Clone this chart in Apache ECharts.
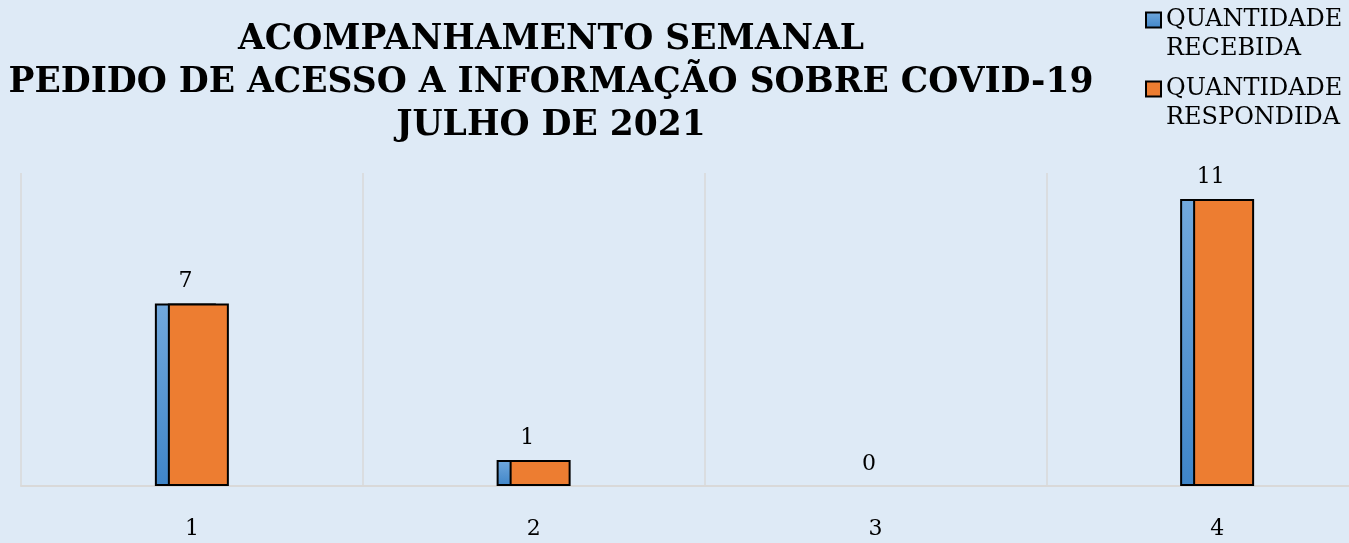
<!DOCTYPE html>
<html>
<head>
<meta charset="utf-8">
<script src="https://cdn.jsdelivr.net/npm/echarts@6/dist/echarts.min.js"></script>
<style>
html,body{margin:0;padding:0;background:#deeaf6;overflow:hidden;width:1349px;height:543px;}
#c{width:1400px;height:543px;}
</style>
</head>
<body>
<div id="c"></div>
<script>
const categories = ['1', '2', '3', '4'];
const recebida = [7, 1, 0, 11];
const respondida = [7, 1, 0, 11];
const seriesNames = ['QUANTIDADE\nRECEBIDA', 'QUANTIDADE\nRESPONDIDA'];
const titleText = 'ACOMPANHAMENTO SEMANAL\nPEDIDO DE ACESSO A INFORMAÇÃO SOBRE COVID-19\nJULHO DE 2021';

function toItems(arr) {
  return arr.map(v => v === 0 ? { value: v, itemStyle: { borderWidth: 0 } } : v);
}

const chart = echarts.init(document.getElementById('c'));
const serif = 'DejaVu Serif';
chart.setOption({
  backgroundColor: '#deeaf6',
  animation: false,
  title: {
    text: titleText,
    left: 551,
    top: 19,
    textAlign: 'center',
    padding: 0,
    textStyle: { fontFamily: serif, fontWeight: 'bold', fontSize: 34.5, lineHeight: 43, color: '#000' }
  },
  legend: {
    orient: 'vertical',
    left: 1145,
    top: -23.5,
    padding: 0,
    itemGap: -18,
    itemWidth: 15,
    itemHeight: 15,
    icon: 'rect',
    itemStyle: { borderColor: '#000', borderWidth: 2 },
    formatter: name => '\n' + name,
    textStyle: { fontFamily: serif, fontSize: 24, lineHeight: 29, color: '#000' },
    data: seriesNames
  },
  grid: { left: 21, right: 12, top: 173, bottom: 57 },
  xAxis: {
    type: 'category',
    data: categories,
    axisLine: { show: true, lineStyle: { color: '#d9d9d9', width: 2 } },
    axisTick: { show: false },
    axisLabel: { margin: 32, fontFamily: serif, fontSize: 22, color: '#000' },
    splitLine: { show: true, lineStyle: { color: '#d9d9d9', width: 1.5 } }
  },
  yAxis: {
    type: 'value',
    min: 0, max: 12,
    show: false,
    splitLine: { show: false }
  },
  series: [
    {
      name: seriesNames[0],
      type: 'bar',
      data: toItems(recebida),
      barWidth: 61,
      barGap: '-78.7%',
      itemStyle: {
        color: new echarts.graphic.LinearGradient(0, 0, 0, 1, [
          { offset: 0, color: '#72a9dd' },
          { offset: 1, color: '#3f85c8' }
        ]),
        borderColor: '#000',
        borderWidth: 2
      },
      label: { show: true, position: 'top', distance: 11, fontFamily: serif, fontSize: 22, color: '#000' }
    },
    {
      name: seriesNames[1],
      type: 'bar',
      data: toItems(respondida),
      barWidth: 61,
      itemStyle: { color: '#ed7d31', borderColor: '#000', borderWidth: 2 },
      label: { show: false }
    }
  ]
});
</script>
</body>
</html>
